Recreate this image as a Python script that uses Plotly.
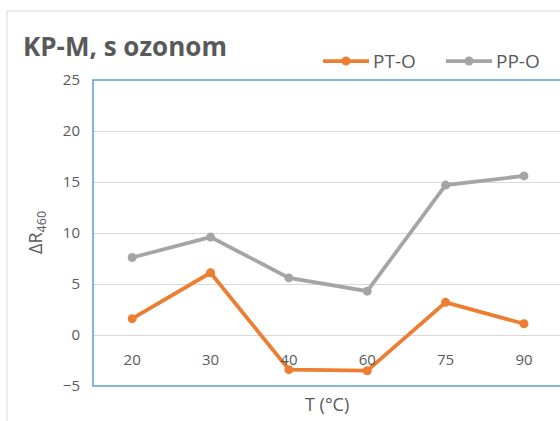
import plotly.graph_objects as go

# Temperature categories and measured ΔR460 values
temperatures = ["20", "30", "40", "60", "75", "90"]
pt_o = [1.6, 6.1, -3.4, -3.5, 3.2, 1.1]
pp_o = [7.6, 9.6, 5.6, 4.3, 14.7, 15.6]
series_names = ["PT-O", "PP-O"]
series_colors = ["#ED7D31", "#A5A5A5"]

TEXT = "#595959"
FONT = "Open Sans"

W, H = 560, 421
ML, MR, MT, MB = 93, 0, 80, 35
plot_w = W - ML - MR
plot_h = H - MT - MB

y_min, y_max = -5, 25


def px_x(px):
    return (px - ML) / plot_w


def px_y(py):
    return (H - MB - py) / plot_h


fig = go.Figure()
for name, vals, color in zip(series_names, [pt_o, pp_o], series_colors):
    fig.add_trace(go.Scatter(
        x=temperatures, y=vals, name=name, mode="lines+markers",
        line=dict(color=color, width=3.75),
        marker=dict(color=color, size=9),
        showlegend=False,
    ))

shapes = [
    # outer chart frame
    dict(type="rect", xref="paper", yref="paper",
         x0=px_x(7), x1=px_x(600), y0=px_y(460), y1=px_y(11),
         line=dict(color="#D9D9D9", width=1), layer="below"),
    # plot area border
    dict(type="rect", xref="paper", yref="paper",
         x0=0, x1=px_x(600), y0=0, y1=1,
         line=dict(color="#5B9BD5", width=1.5), layer="above"),
]

annotations = [
    dict(text="<b>KP-M, s ozonom</b>", xref="paper", yref="paper",
         x=px_x(21), y=px_y(46), xanchor="left", yanchor="middle",
         showarrow=False, font=dict(size=26, color=TEXT)),
    dict(text="T (°C)", xref="paper", yref="paper",
         x=px_x(327), y=px_y(404), xanchor="center", yanchor="middle",
         showarrow=False, font=dict(size=18, color=TEXT)),
    dict(text="ΔR<sub>460</sub>", xref="paper", yref="paper",
         x=px_x(36), y=0.5, xanchor="center", yanchor="middle", textangle=-90,
         showarrow=False, font=dict(size=18, color=TEXT)),
]

# legend: line sample with a centred marker, followed by the series name
legend_y = px_y(61)
legend_starts = [323, 446]
for name, color, x0 in zip(series_names, series_colors, legend_starts):
    shapes.append(dict(type="line", xref="paper", yref="paper",
                       x0=px_x(x0), x1=px_x(x0 + 46), y0=legend_y, y1=legend_y,
                       line=dict(color=color, width=3.75)))
    cx = x0 + 23
    shapes.append(dict(type="circle", xref="paper", yref="paper",
                       x0=px_x(cx - 4.5), x1=px_x(cx + 4.5),
                       y0=px_y(61 + 4.5), y1=px_y(61 - 4.5),
                       fillcolor=color, line=dict(color=color, width=0)))
    annotations.append(dict(text=name, xref="paper", yref="paper",
                            x=px_x(x0 + 48), y=legend_y, xanchor="left", yanchor="middle",
                            showarrow=False, font=dict(size=19, color=TEXT)))

fig.update_layout(
    width=W, height=H,
    margin=dict(l=ML, r=MR, t=MT, b=MB),
    paper_bgcolor="white", plot_bgcolor="white",
    font=dict(family=FONT, color=TEXT),
    showlegend=False,
    xaxis=dict(
        type="category", range=[-0.5, 5.46],
        showgrid=False, zeroline=False, showline=False,
        ticks="", anchor="free",
        position=(0 - y_min) / (y_max - y_min),
        tickfont=dict(size=15, color=TEXT),
        ticklabelstandoff=14,
    ),
    yaxis=dict(
        range=[y_min, y_max], dtick=5,
        showgrid=True, gridcolor="#D9D9D9", gridwidth=1,
        zeroline=False, showline=False, ticks="",
        tickfont=dict(size=15, color=TEXT),
        ticklabelstandoff=12,
    ),
    annotations=annotations,
    shapes=shapes,
)

fig.write_html("out.html")
